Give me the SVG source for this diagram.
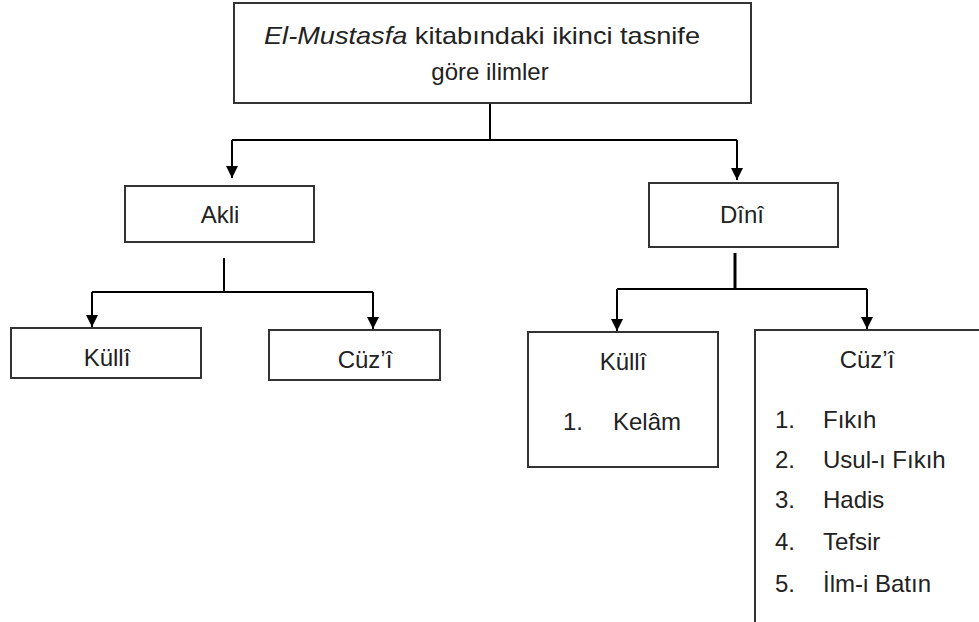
<svg xmlns="http://www.w3.org/2000/svg" width="979" height="622" viewBox="0 0 979 622">
<style>
.box{fill:#fff;stroke:#333;stroke-width:2}
.t{font-family:"Liberation Sans",Arial,sans-serif;font-size:24px;fill:#222}
.c{text-anchor:middle}
.ln{fill:none;stroke:#000;stroke-width:2}
</style>
<defs>
<marker id="ah" viewBox="0 0 12 12" refX="12" refY="6" markerWidth="12" markerHeight="12" markerUnits="userSpaceOnUse" orient="auto">
<path d="M0,0 L12,6 L0,12 Z" fill="#000"/>
</marker>
</defs>
<rect width="979" height="622" fill="#fff"/>
<g id="connectors">
<path class="ln" d="M490,103 V140 M232,140 H737"/>
<path class="ln" d="M232,140 V178" marker-end="url(#ah)"/>
<path class="ln" d="M737,140 V180" marker-end="url(#ah)"/>
<path class="ln" d="M224,258 V292 M92,292 H373"/>
<path class="ln" d="M92,292 V327" marker-end="url(#ah)"/>
<path class="ln" d="M373,292 V329" marker-end="url(#ah)"/>
<path class="ln" d="M735,253 V289" style="stroke-width:3"/>
<path class="ln" d="M617,289 H867"/>
<path class="ln" d="M617,289 V331" marker-end="url(#ah)"/>
<path class="ln" d="M867,289 V329" marker-end="url(#ah)"/>
</g>
<g id="root">
<rect class="box" x="234" y="3" width="517" height="100"/>
<text class="t c" x="482" y="44" textLength="436" lengthAdjust="spacingAndGlyphs"><tspan font-style="italic">El-Mustasfa</tspan> kitabındaki ikinci tasnife</text>
<text class="t c" x="490" y="80">göre ilimler</text>
</g>
<g id="akli">
<rect class="box" x="125" y="186" width="189" height="56"/>
<text class="t c" x="220" y="223">Akli</text>
</g>
<g id="dini">
<rect class="box" x="649" y="183" width="189" height="64"/>
<text class="t c" x="742" y="223">Dînî</text>
</g>
<g id="akli-kulli">
<rect class="box" x="11" y="328" width="190" height="50"/>
<text class="t c" x="107" y="366">Küllî</text>
</g>
<g id="akli-cuzi">
<rect class="box" x="269" y="330" width="171" height="50"/>
<text class="t c" x="365" y="368">Cüz’î</text>
</g>
<g id="dini-kulli">
<rect class="box" x="528" y="332" width="190" height="135"/>
<text class="t c" x="623" y="370">Küllî</text>
<text class="t" x="563" y="430">1.</text>
<text class="t" x="613" y="430">Kelâm</text>
</g>
<g id="dini-cuzi">
<path class="box" d="M980,330 H755 V623" style="fill:none"/>
<text class="t c" x="867" y="368">Cüz’î</text>
<text class="t" x="775" y="428">1.</text><text class="t" x="823" y="428">Fıkıh</text>
<text class="t" x="775" y="468">2.</text><text class="t" x="823" y="468">Usul-ı Fıkıh</text>
<text class="t" x="775" y="508">3.</text><text class="t" x="823" y="508">Hadis</text>
<text class="t" x="775" y="550">4.</text><text class="t" x="823" y="550">Tefsir</text>
<text class="t" x="775" y="592">5.</text><text class="t" x="823" y="592">İlm-i Batın</text>
</g>
</svg>
